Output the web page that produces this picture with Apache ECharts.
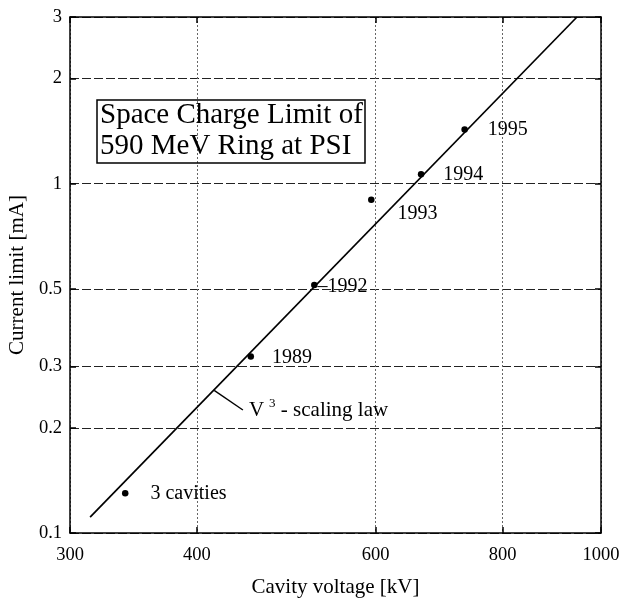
<!DOCTYPE html>
<html>
<head>
<meta charset="utf-8">
<script src="https://cdn.jsdelivr.net/npm/echarts@6/dist/echarts.min.js"></script>
<style>html,body{margin:0;padding:0;background:#fff;}#chart{width:624px;height:599px;}</style>
</head>
<body>
<div id="chart"></div>
<script>
const xTicks = [300, 400, 600, 800, 1000];
const yTicks = [0.1, 0.2, 0.3, 0.5, 1, 2, 3];
const pointLabels = ['3 cavities', '1989', '1992', '1993', '1994', '1995'];
const voltage = [340, 452, 522, 594, 665, 734];
const current = [0.130, 0.32, 0.513, 0.90, 1.064, 1.43];
const lawVoltage = [314, 947];
const lawCurrent = [0.111, 3];
const leaderVoltage = [416, 444];
const leaderCurrent = [0.256, 0.225];
const titleText = 'Space Charge Limit of\n590 MeV Ring at PSI';
const xName = 'Cavity voltage [kV]';
const yName = 'Current limit [mA]';

const FONT = '"Liberation Serif", "DejaVu Serif", serif';
const fmt = v => String(+Number(v).toPrecision(6));

const chart = echarts.init(document.getElementById('chart'), null, {renderer: 'canvas'});

function xAxisCfg(pos, showLabel) {
  return {
    type: 'log', position: pos, min: 300, max: 1000,
    name: showLabel ? xName : '', nameLocation: 'middle', nameGap: 44,
    nameTextStyle: {fontFamily: FONT, fontSize: 21, color: '#000'},
    axisLine: {show: true, onZero: false, lineStyle: {color: '#000', width: 1.5}},
    axisTick: {show: true, inside: true, length: 6, customValues: xTicks, lineStyle: {color: '#000', width: 1.5}},
    axisLabel: {show: showLabel, customValues: xTicks, formatter: fmt, margin: 13,
      fontFamily: FONT, fontSize: 18.5, color: '#000'},
    splitLine: {show: showLabel, lineStyle: {color: '#666', width: 1, type: [2, 2]}},
    minorTick: {show: false}
  };
}
function yAxisCfg(pos, showLabel) {
  return {
    type: 'log', position: pos, min: 0.1, max: 3,
    name: showLabel ? yName : '', nameLocation: 'middle', nameGap: 36,
    nameTextStyle: {fontFamily: FONT, fontSize: 21, color: '#000'},
    axisLine: {show: true, onZero: false, lineStyle: {color: '#000', width: 1.5}},
    axisTick: {show: true, inside: true, length: 6, customValues: yTicks, lineStyle: {color: '#000', width: 1.5}},
    axisLabel: {show: showLabel, customValues: yTicks, formatter: fmt, margin: 8,
      fontFamily: FONT, fontSize: 18.5, color: '#000'},
    splitLine: {show: showLabel, lineStyle: {color: '#222', width: 1, type: [9, 3]}},
    minorTick: {show: false}
  };
}

const labelBase = {show: true, position: 'right', formatter: '{b}', fontFamily: FONT, fontSize: 20,
  color: '#000', opacity: 1, textBorderWidth: 0};
const labelTweaks = {
  '3 cavities': {distance: 22, offset: [0, 1]},
  '1989': {distance: 18, offset: [0, 1]},
  '1992': {distance: 0, offset: [0, 2], formatter: '–{b}'},
  '1993': {distance: 20, offset: [3, 14]},
  '1994': {distance: 19, offset: [0, 0]},
  '1995': {distance: 20, offset: [0, 0]}
};
const pointData = voltage.map((v, i) => ({
  value: [v, current[i]], name: pointLabels[i],
  label: Object.assign({}, labelBase, labelTweaks[pointLabels[i]])
}));

const option = {
  backgroundColor: '#fff',
  animation: false,
  title: {
    text: titleText, left: 97, top: 100,
    borderColor: '#000', borderWidth: 1.5, padding: [0, 2, 1, 3],
    textStyle: {fontFamily: FONT, fontSize: 29, fontWeight: 'normal', color: '#000', lineHeight: 31}
  },
  grid: {left: 70, right: 23, top: 17, bottom: 66, containLabel: false, outerBoundsMode: 'none'},
  xAxis: [xAxisCfg('bottom', true), xAxisCfg('top', false)],
  yAxis: [yAxisCfg('left', true), yAxisCfg('right', false)],
  series: [
    {
      type: 'line', name: 'law', data: lawVoltage.map((v, i) => [v, lawCurrent[i]]),
      showSymbol: false, symbol: 'none', lineStyle: {color: '#000', width: 1.7}, z: 3
    },
    {
      type: 'line', name: 'leader', data: leaderVoltage.map((v, i) => [v, leaderCurrent[i]]),
      showSymbol: false, symbol: 'none', lineStyle: {color: '#000', width: 1.4},
      endLabel: {
        show: true, distance: 6, offset: [0, 1],
        formatter: '{v|V}{s|3}{t| - scaling law}',
        rich: {
          v: {fontFamily: FONT, fontSize: 21, color: '#000'},
          s: {fontFamily: FONT, fontSize: 13, color: '#000', padding: [0, 0, 15, 5]},
          t: {fontFamily: FONT, fontSize: 21, color: '#000'}
        }
      }
    },
    {
      type: 'scatter', name: 'points', data: pointData,
      symbol: 'circle', symbolSize: 6.5, itemStyle: {color: '#000', opacity: 1}, z: 5,
      label: labelBase
    }
  ]
};
chart.setOption(option);
</script>
</body>
</html>
